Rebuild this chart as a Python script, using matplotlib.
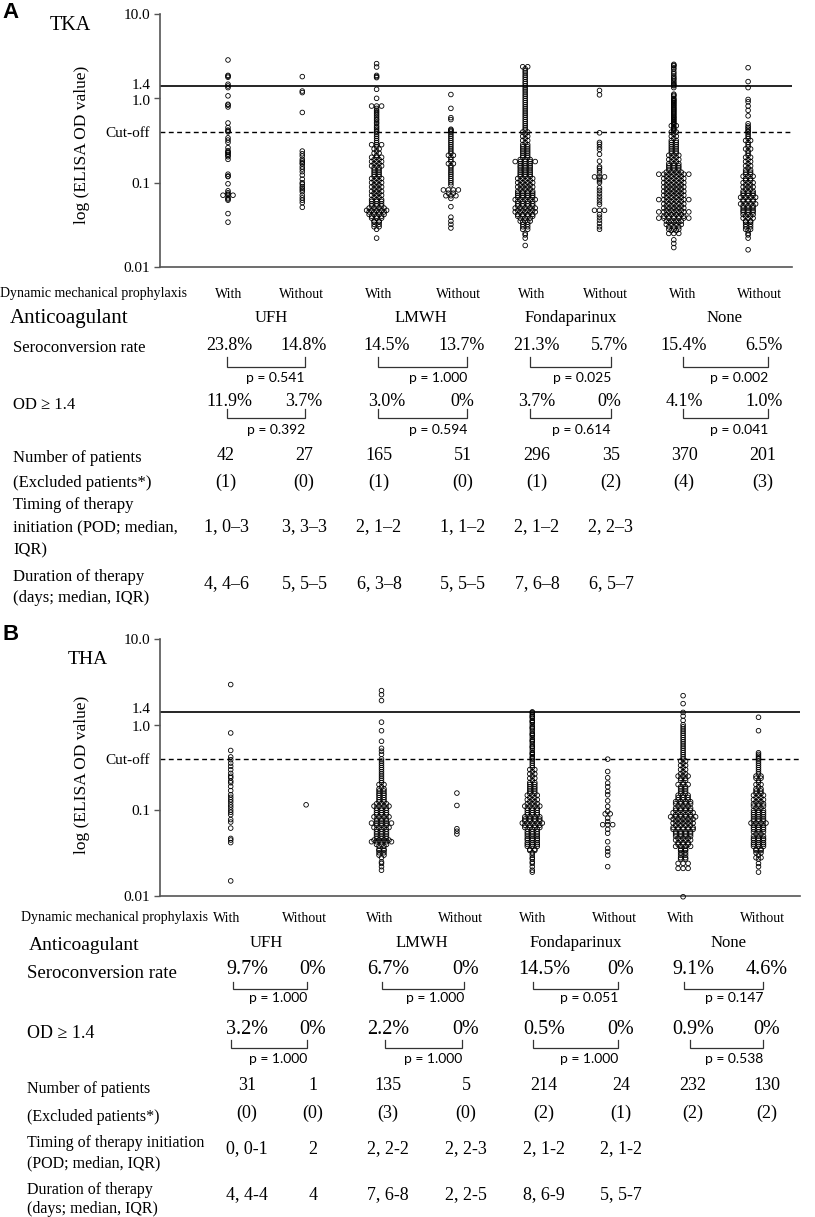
import matplotlib
matplotlib.use("Agg")
import matplotlib.pyplot as plt
from matplotlib.transforms import ScaledTranslation

SERIF = ["Liberation Serif", "DejaVu Serif"]
PFONT = ["Lato", "Liberation Sans", "DejaVu Sans"]
plt.rcParams["font.family"] = SERIF

W, H = 815, 1217

# ELISA OD values: (OD value, number of patients at that value)
# order of groups: UFH with/without, LMWH with/without, Fondaparinux with/without, None with/without

# ---- TKA
TKA_UFH_WITH = [(2.85, 1), (1.87, 1), (1.83, 1), (1.78, 1), (1.47, 1), (1.40, 1), (1.34, 1), (1.07, 1),
                (0.85, 1), (0.83, 1), (0.79, 1), (0.51, 1), (0.45, 1), (0.42, 1), (0.41, 1), (0.40, 1),
                (0.34, 1), (0.32, 1), (0.30, 1), (0.26, 1), (0.24, 1), (0.23, 1), (0.227, 1), (0.217, 1),
                (0.21, 1), (0.203, 1), (0.189, 1), (0.126, 1), (0.12, 1), (0.118, 1), (0.097, 1), (0.080, 1),
                (0.076, 1), (0.073, 1), (0.071, 3), (0.066, 1), (0.064, 1), (0.062, 1), (0.043, 1), (0.034, 1)]
TKA_UFH_WITHOUT = [(1.81, 1), (1.22, 1), (1.17, 1), (0.68, 1), (0.237, 1), (0.220, 1), (0.207, 1), (0.189, 1),
                   (0.180, 1), (0.172, 1), (0.166, 1), (0.154, 1), (0.145, 1), (0.135, 1), (0.123, 1), (0.110, 1),
                   (0.100, 1), (0.096, 1), (0.090, 1), (0.086, 1), (0.082, 1), (0.078, 1), (0.071, 1), (0.066, 1),
                   (0.062, 1), (0.058, 1), (0.051, 1)]
TKA_LMWH_WITH = [(2.58, 1), (2.35, 1), (1.87, 1), (1.81, 1), (1.76, 1), (1.28, 1), (1.00, 1), (0.81, 3),
                 (0.76, 1), (0.72, 1), (0.69, 1), (0.66, 1), (0.63, 1), (0.60, 1), (0.57, 1), (0.55, 1),
                 (0.52, 1), (0.50, 1), (0.47, 1), (0.45, 1), (0.43, 1), (0.41, 1),
                 (0.398, 1), (0.376, 1), (0.355, 1), (0.335, 1), (0.316, 1), (0.299, 1), (0.282, 3), (0.266, 1),
                 (0.251, 2), (0.237, 1), (0.224, 2), (0.211, 1), (0.200, 3), (0.188, 2), (0.178, 3), (0.168, 2),
                 (0.158, 3), (0.150, 2), (0.141, 2), (0.133, 2), (0.126, 2), (0.119, 2), (0.112, 3), (0.106, 2),
                 (0.100, 3), (0.094, 2), (0.089, 3), (0.084, 2), (0.079, 3), (0.075, 2), (0.071, 3), (0.067, 2),
                 (0.063, 3), (0.060, 3), (0.056, 3), (0.053, 3), (0.050, 4), (0.047, 5), (0.045, 4), (0.042, 4),
                 (0.040, 3), (0.038, 3), (0.035, 2), (0.034, 2), (0.032, 2), (0.030, 2), (0.028, 1), (0.022, 1)]
TKA_LMWH_WITHOUT = [(1.11, 1), (0.76, 1), (0.59, 1), (0.56, 1), (0.43, 1), (0.42, 1), (0.41, 1),
                    (0.398, 1), (0.376, 1), (0.355, 1), (0.335, 1), (0.316, 1), (0.299, 1), (0.282, 1), (0.266, 1),
                    (0.251, 1), (0.237, 1), (0.224, 1), (0.211, 2), (0.200, 1), (0.188, 1), (0.178, 1), (0.168, 2),
                    (0.158, 1), (0.150, 1), (0.141, 1), (0.133, 1), (0.126, 1), (0.119, 1), (0.112, 1), (0.106, 1),
                    (0.100, 1), (0.094, 1), (0.082, 4), (0.075, 2), (0.070, 3), (0.065, 1), (0.052, 1), (0.039, 1),
                    (0.035, 1), (0.032, 1), (0.029, 1)]
TKA_FONDA_WITH = [(2.37, 2), (2.24, 1), (2.11, 1), (2.00, 1), (1.88, 1), (1.78, 1), (1.68, 1), (1.58, 1),
                  (1.50, 1), (1.41, 1), (1.33, 1), (1.26, 1), (1.19, 1), (1.12, 1), (1.06, 1), (1.00, 1),
                  (0.944, 1), (0.891, 1), (0.841, 1), (0.794, 1), (0.750, 1), (0.708, 1), (0.668, 1), (0.631, 1),
                  (0.596, 1), (0.562, 1), (0.531, 1), (0.501, 1), (0.473, 1), (0.447, 1), (0.422, 1),
                  (0.398, 2), (0.376, 1), (0.355, 2), (0.335, 1), (0.316, 2), (0.299, 1), (0.282, 2), (0.266, 2),
                  (0.251, 2), (0.237, 2), (0.224, 2), (0.211, 2), (0.200, 2), (0.188, 3), (0.178, 5), (0.168, 3),
                  (0.158, 3), (0.150, 3), (0.141, 3), (0.133, 3), (0.126, 3), (0.119, 3), (0.112, 4), (0.106, 3),
                  (0.100, 4), (0.094, 3), (0.089, 4), (0.084, 3), (0.079, 4), (0.075, 4), (0.071, 4), (0.067, 4),
                  (0.063, 5), (0.060, 4), (0.056, 4), (0.053, 4), (0.050, 5), (0.047, 4), (0.045, 5), (0.042, 4),
                  (0.040, 4), (0.038, 3), (0.035, 3), (0.034, 2), (0.032, 2), (0.030, 2), (0.028, 2), (0.025, 1),
                  (0.024, 1), (0.022, 1), (0.018, 1)]
TKA_FONDA_WITHOUT = [(1.24, 1), (1.10, 1), (0.39, 1), (0.30, 1), (0.285, 1), (0.265, 1), (0.248, 1), (0.217, 1),
                     (0.18, 1), (0.154, 1), (0.148, 1), (0.138, 1), (0.13, 1), (0.117, 3), (0.110, 1), (0.105, 1),
                     (0.100, 1), (0.087, 1), (0.081, 1), (0.075, 1), (0.069, 1), (0.064, 1), (0.059, 1), (0.055, 1),
                     (0.047, 3), (0.042, 1), (0.039, 1), (0.036, 1), (0.033, 1), (0.030, 1), (0.028, 1)]
TKA_NONE_WITH = [(2.53, 1), (2.47, 1), (2.42, 1), (2.30, 1), (2.20, 1), (2.05, 1), (1.95, 1), (1.84, 1),
                 (1.76, 1), (1.70, 1), (1.63, 1), (1.55, 1), (1.49, 1), (1.44, 1), (1.41, 1),
                 (1.34, 1), (1.12, 1), (1.09, 1), (1.06, 1), (1.00, 1), (0.97, 1), (0.944, 1), (0.92, 1),
                 (0.891, 1), (0.87, 1), (0.841, 1), (0.82, 1), (0.794, 1), (0.77, 1), (0.750, 1), (0.73, 1),
                 (0.708, 1), (0.69, 1), (0.668, 1), (0.65, 1), (0.631, 1), (0.61, 1), (0.596, 1), (0.58, 1),
                 (0.562, 1), (0.55, 1), (0.531, 1), (0.52, 1), (0.501, 1), (0.49, 1), (0.473, 2), (0.46, 1),
                 (0.447, 1), (0.435, 1), (0.422, 1), (0.41, 1),
                 (0.398, 2), (0.376, 1), (0.355, 2), (0.335, 1), (0.316, 2), (0.299, 2), (0.282, 2), (0.266, 2),
                 (0.251, 2), (0.237, 2), (0.224, 2), (0.211, 3), (0.200, 2), (0.188, 3), (0.178, 2), (0.168, 3),
                 (0.158, 3), (0.150, 3), (0.141, 3), (0.133, 4), (0.126, 7), (0.119, 4), (0.112, 5), (0.106, 4),
                 (0.100, 5), (0.094, 4), (0.089, 5), (0.084, 4), (0.079, 5), (0.075, 4), (0.071, 5), (0.067, 4),
                 (0.063, 7), (0.060, 4), (0.056, 5), (0.053, 4), (0.050, 5), (0.047, 4), (0.045, 7), (0.042, 4),
                 (0.040, 5), (0.038, 7), (0.035, 4), (0.034, 3), (0.032, 4), (0.030, 3), (0.028, 3), (0.027, 2),
                 (0.025, 3), (0.021, 1), (0.019, 1), (0.017, 1)]
TKA_NONE_WITHOUT = [(2.31, 1), (1.58, 1), (1.34, 1), (0.97, 1), (0.91, 1), (0.81, 1), (0.72, 1), (0.62, 1),
                    (0.50, 1), (0.47, 1), (0.45, 1), (0.43, 1), (0.41, 1),
                    (0.398, 1), (0.376, 1), (0.355, 1), (0.335, 1), (0.316, 2), (0.299, 1), (0.282, 1), (0.266, 1),
                    (0.251, 2), (0.237, 1), (0.224, 1), (0.211, 1), (0.200, 2), (0.188, 1), (0.178, 2), (0.168, 1),
                    (0.158, 2), (0.150, 1), (0.141, 2), (0.133, 2), (0.126, 2), (0.119, 3), (0.112, 2), (0.106, 2),
                    (0.100, 3), (0.094, 2), (0.089, 3), (0.084, 2), (0.079, 3), (0.075, 3), (0.071, 3), (0.067, 4),
                    (0.063, 3), (0.060, 3), (0.056, 4), (0.053, 3), (0.050, 3), (0.047, 3), (0.045, 3), (0.042, 3),
                    (0.040, 2), (0.038, 3), (0.035, 2), (0.034, 2), (0.032, 2), (0.030, 2), (0.028, 2), (0.027, 1),
                    (0.025, 1), (0.024, 1), (0.022, 1), (0.016, 1)]

# ---- THA
THA_UFH_WITH = [(2.94, 1), (0.80, 1), (0.50, 1), (0.42, 1), (0.39, 1), (0.356, 1), (0.326, 1), (0.298, 1),
                (0.27, 1), (0.25, 1), (0.24, 1), (0.22, 1), (0.21, 1), (0.19, 1), (0.17, 1), (0.152, 1),
                (0.142, 1), (0.133, 1), (0.125, 1), (0.116, 1), (0.109, 1), (0.101, 1), (0.095, 1), (0.089, 1),
                (0.078, 1), (0.073, 1), (0.062, 1), (0.047, 1), (0.045, 1), (0.042, 1), (0.015, 1)]
THA_UFH_WITHOUT = [(0.116, 1)]
THA_LMWH_WITH = [(2.50, 1), (2.24, 1), (1.91, 1), (1.07, 1), (0.85, 1), (0.64, 1), (0.53, 1), (0.49, 1), (0.45, 1),
                 (0.398, 1), (0.376, 1), (0.355, 1), (0.335, 1), (0.316, 1), (0.299, 1), (0.282, 1), (0.266, 1),
                 (0.251, 1), (0.237, 1), (0.224, 1), (0.211, 1), (0.200, 2), (0.188, 1), (0.178, 2), (0.168, 2),
                 (0.158, 2), (0.150, 2), (0.141, 2), (0.133, 2), (0.126, 2), (0.119, 3), (0.112, 4), (0.106, 3),
                 (0.100, 3), (0.094, 3), (0.089, 3), (0.084, 4), (0.079, 3), (0.075, 3), (0.071, 5), (0.067, 3),
                 (0.063, 4), (0.060, 3), (0.056, 3), (0.053, 3), (0.050, 3), (0.047, 3), (0.045, 4), (0.043, 5),
                 (0.040, 3), (0.038, 2), (0.035, 2), (0.034, 2), (0.032, 2), (0.030, 2), (0.028, 1), (0.025, 1),
                 (0.024, 1), (0.022, 1), (0.020, 1)]
THA_LMWH_WITHOUT = [(0.159, 1), (0.114, 1), (0.061, 1), (0.057, 1), (0.053, 1)]
THA_FONDA_WITH = [(1.41, 1), (1.38, 1), (1.31, 1), (1.26, 1), (1.23, 1), (1.19, 1), (1.12, 1), (1.09, 1),
                  (1.06, 1), (1.00, 1), (0.944, 1), (0.92, 1), (0.891, 1), (0.841, 1), (0.794, 1), (0.77, 1),
                  (0.750, 1), (0.708, 1), (0.668, 1), (0.65, 1), (0.631, 1), (0.596, 1), (0.562, 1), (0.55, 1),
                  (0.531, 1), (0.501, 1), (0.473, 1), (0.46, 1), (0.447, 1), (0.422, 1), (0.41, 1),
                  (0.398, 1), (0.376, 1), (0.355, 1), (0.335, 1), (0.316, 1), (0.299, 2), (0.282, 1), (0.266, 2),
                  (0.251, 1), (0.237, 2), (0.224, 1), (0.211, 2), (0.200, 2), (0.188, 2), (0.178, 2), (0.168, 2),
                  (0.158, 2), (0.150, 3), (0.141, 2), (0.133, 3), (0.126, 2), (0.119, 3), (0.112, 4), (0.106, 3),
                  (0.100, 3), (0.094, 3), (0.089, 3), (0.084, 4), (0.079, 4), (0.075, 4), (0.071, 5), (0.067, 4),
                  (0.063, 4), (0.060, 3), (0.056, 3), (0.053, 3), (0.050, 3), (0.047, 3), (0.045, 3), (0.042, 3),
                  (0.040, 3), (0.038, 3), (0.035, 2), (0.034, 2), (0.032, 1), (0.030, 1), (0.028, 1), (0.027, 1),
                  (0.025, 1), (0.024, 1), (0.022, 1), (0.020, 1), (0.019, 1)]
THA_FONDA_WITHOUT = [(0.396, 1), (0.284, 1), (0.24, 1), (0.208, 1), (0.188, 1), (0.166, 1), (0.152, 1), (0.129, 1),
                     (0.111, 1), (0.097, 1), (0.091, 2), (0.081, 1), (0.074, 1), (0.068, 3), (0.060, 1), (0.054, 1),
                     (0.043, 1), (0.036, 1), (0.033, 1), (0.030, 1), (0.022, 1)]
THA_NONE_WITH = [(2.18, 1), (1.76, 1), (1.39, 1), (1.26, 1), (1.12, 1), (1.00, 1), (0.944, 1), (0.891, 1),
                 (0.841, 1), (0.794, 1), (0.750, 1), (0.708, 1), (0.668, 1), (0.631, 1), (0.596, 1), (0.562, 1),
                 (0.531, 1), (0.501, 1), (0.473, 1), (0.447, 1), (0.422, 1),
                 (0.398, 1), (0.376, 2), (0.355, 1), (0.335, 2), (0.316, 1), (0.299, 2), (0.282, 1), (0.266, 2),
                 (0.251, 3), (0.237, 2), (0.224, 2), (0.211, 1), (0.200, 3), (0.188, 2), (0.178, 2), (0.168, 2),
                 (0.158, 2), (0.150, 3), (0.141, 3), (0.133, 3), (0.126, 4), (0.119, 4), (0.112, 3), (0.106, 4),
                 (0.100, 4), (0.094, 5), (0.089, 4), (0.084, 6), (0.079, 5), (0.075, 4), (0.071, 5), (0.067, 4),
                 (0.063, 5), (0.060, 5), (0.056, 4), (0.053, 4), (0.050, 4), (0.047, 3), (0.045, 4), (0.042, 3),
                 (0.040, 3), (0.038, 4), (0.035, 2), (0.034, 2), (0.032, 2), (0.030, 2), (0.028, 2), (0.027, 2),
                 (0.024, 3), (0.021, 3), (0.0098, 1)]
THA_NONE_WITHOUT = [(1.22, 1), (0.85, 1), (0.47, 1), (0.45, 1), (0.43, 1), (0.41, 1),
                    (0.398, 1), (0.376, 1), (0.355, 1), (0.335, 1), (0.316, 1), (0.299, 1), (0.282, 1), (0.266, 1),
                    (0.251, 2), (0.237, 2), (0.224, 1), (0.211, 1), (0.200, 2), (0.188, 1), (0.178, 2), (0.168, 2),
                    (0.158, 2), (0.150, 3), (0.141, 2), (0.133, 3), (0.126, 2), (0.119, 3), (0.112, 3), (0.106, 2),
                    (0.100, 3), (0.094, 3), (0.089, 3), (0.084, 3), (0.079, 3), (0.075, 3), (0.071, 4), (0.067, 3),
                    (0.063, 3), (0.060, 3), (0.056, 3), (0.053, 2), (0.050, 3), (0.047, 3), (0.045, 3), (0.042, 3),
                    (0.040, 3), (0.038, 3), (0.035, 2), (0.034, 2), (0.032, 2), (0.030, 1), (0.028, 2), (0.027, 1),
                    (0.024, 1), (0.022, 1), (0.019, 1)]

TKA_GROUPS = [TKA_UFH_WITH, TKA_UFH_WITHOUT, TKA_LMWH_WITH, TKA_LMWH_WITHOUT,
              TKA_FONDA_WITH, TKA_FONDA_WITHOUT, TKA_NONE_WITH, TKA_NONE_WITHOUT]
THA_GROUPS = [THA_UFH_WITH, THA_UFH_WITHOUT, THA_LMWH_WITH, THA_LMWH_WITHOUT,
              THA_FONDA_WITH, THA_FONDA_WITHOUT, THA_NONE_WITH, THA_NONE_WITHOUT]

# ---- table text
PROPHYLAXIS = ["With", "Without"] * 4
ANTICOAGULANTS = ["UFH", "LMWH", "Fondaparinux", "None"]

TKA_SERO = ["23.8%", "14.8%", "14.5%", "13.7%", "21.3%", "5.7%", "15.4%", "6.5%"]
TKA_SERO_P = ["p = 0.541", "p = 1.000", "p = 0.025", "p = 0.002"]
TKA_OD14 = ["11.9%", "3.7%", "3.0%", "0%", "3.7%", "0%", "4.1%", "1.0%"]
TKA_OD14_P = ["p = 0.392", "p = 0.594", "p = 0.614", "p = 0.041"]
TKA_N = ["42", "27", "165", "51", "296", "35", "370", "201"]
TKA_EXCL = ["(1)", "(0)", "(1)", "(0)", "(1)", "(2)", "(4)", "(3)"]
TKA_TIMING = ["1, 0–3", "3, 3–3", "2, 1–2", "1, 1–2", "2, 1–2", "2, 2–3"]
TKA_DURATION = ["4, 4–6", "5, 5–5", "6, 3–8", "5, 5–5", "7, 6–8", "6, 5–7"]

THA_SERO = ["9.7%", "0%", "6.7%", "0%", "14.5%", "0%", "9.1%", "4.6%"]
THA_SERO_P = ["p = 1.000", "p = 1.000", "p = 0.051", "p = 0.147"]
THA_OD14 = ["3.2%", "0%", "2.2%", "0%", "0.5%", "0%", "0.9%", "0%"]
THA_OD14_P = ["p = 1.000", "p = 1.000", "p = 1.000", "p = 0.538"]
THA_N = ["31", "1", "135", "5", "214", "24", "232", "130"]
THA_EXCL = ["(0)", "(0)", "(3)", "(0)", "(2)", "(1)", "(2)", "(2)"]
THA_TIMING = ["0, 0-1", "2", "2, 2-2", "2, 2-3", "2, 1-2", "2, 1-2"]
THA_DURATION = ["4, 4-4", "4", "7, 6-8", "2, 2-5", "8, 6-9", "5, 5-7"]

YTICKS = [10, 1.4, 1, 0.4, 0.1, 0.01]
YTICKLABELS = ["10.0", "1.4", "1.0", "Cut-off", "0.1", "0.01"]

fig = plt.figure(figsize=(W / 100, H / 100), dpi=100)

# full-figure overlay in pixel coordinates for the table part
tab = fig.add_axes([0, 0, 1, 1], zorder=-1)
tab.set_xlim(0, W)
tab.set_ylim(H, 0)
tab.axis("off")


def put(x, y, s, size, ha="center", family=SERIF, **kw):
    tab.text(x, y, s, fontsize=size, ha=ha, va="center", family=family, **kw)


def bracket(x0, x1, y0, y1):
    tab.plot([x0, x0, x1, x1], [y0, y1, y1, y0], color="#333333", lw=0.9, solid_joinstyle="miter")


def dot_panel(left, top, right, bottom, first_x, spacing, groups, lift14):
    ax = fig.add_axes([left / W, 1 - bottom / H, (right - left) / W, (bottom - top) / H])
    ax.patch.set_visible(False)
    ax.set_yscale("log")
    ax.set_ylim(0.01, 10)
    ax.set_xlim(1 - (first_x - left) / spacing, 8 + (right - first_x - 7 * spacing) / spacing)
    step = 5.0 / spacing
    for i, grp in enumerate(groups, start=1):
        xs, ys = [], []
        for od, n in grp:
            for k in range(n):
                xs.append(i + (k - (n - 1) / 2) * step)
                ys.append(od)
        ax.scatter(xs, ys, s=11, facecolors="none", edgecolors="black", linewidths=0.6,
                   clip_on=False, zorder=3)
    ax.axhline(1.4, color="black", lw=1.2, zorder=2)
    ax.axhline(0.4, color="black", lw=1.0, ls=(0, (3.5, 2.5)), zorder=2)
    for s in ["top", "right"]:
        ax.spines[s].set_visible(False)
    for s in ["left", "bottom"]:
        ax.spines[s].set_color("#555555")
        ax.spines[s].set_linewidth(1.2)
    ax.set_xticks([])
    ax.set_yticks(YTICKS)
    ax.set_yticklabels(YTICKLABELS)
    ax.minorticks_off()
    ax.tick_params(axis="y", length=4, width=1, color="#555555", labelsize=11, pad=3)
    ticks = ax.yaxis.get_major_ticks()
    for t in (ticks[1], ticks[3]):
        t.tick1line.set_visible(False)
    # keep the stacked "1.4" / "1.0" labels apart like in the original
    lab14 = ticks[1].label1
    lab14.set_transform(lab14.get_transform() + ScaledTranslation(0, lift14 / 100, fig.dpi_scale_trans))
    lab10 = ticks[2].label1
    lab10.set_transform(lab10.get_transform() + ScaledTranslation(0, -1.5 / 100, fig.dpi_scale_trans))
    return ax


# ---------------- panel A (TKA)
dot_panel(160, 14, 792, 267, 228, 74.3, TKA_GROUPS, 2.5)
put(2, 13, "A", 16, ha="left", family=["Liberation Sans", "DejaVu Sans"], fontweight="bold")
put(50, 25, "TKA", 14.5, ha="left")
tab.text(82, 145, "log (ELISA OD value)", fontsize=12.5, rotation=90, ha="center", va="center")

A_HEAD = [229, 301, 379, 458, 532, 605, 683, 759]
A_COLS = [229, 304, 387, 462, 537, 609, 684, 764]
A_NUM = [226, 304, 379, 463, 537, 611, 684, 763]
A_DRUG = [271, 421, 571, 725]
A_BR = [(227, 305), (378, 467), (530, 611), (683, 768)]

put(0, 294, "Dynamic mechanical prophylaxis", 10, ha="left")
for x, s in zip(A_HEAD, PROPHYLAXIS):
    put(x, 294, s, 10)
put(10, 319, "Anticoagulant", 15, ha="left")
for x, s in zip(A_DRUG, ANTICOAGULANTS):
    put(x, 318, s, 12)
put(13, 348, "Seroconversion rate", 12, ha="left")
for x, s in zip(A_COLS, TKA_SERO):
    put(x, 345, s, 13)
for (x0, x1), p in zip(A_BR, TKA_SERO_P):
    bracket(x0, x1, 357, 367)
    put(x1, 378, p, 10, ha="right", family=PFONT)
put(13, 405, "OD ≥ 1.4", 12, ha="left")
for x, s in zip(A_COLS, TKA_OD14):
    put(x, 402, s, 13)
for (x0, x1), p in zip(A_BR, TKA_OD14_P):
    bracket(x0, x1, 409, 418)
    put(x1, 430, p, 10, ha="right", family=PFONT)
put(13, 458, "Number of patients", 12, ha="left")
for x, s in zip(A_NUM, TKA_N):
    put(x, 455, s, 13)
put(13, 483, "(Excluded patients*)", 12, ha="left")
for x, s in zip(A_NUM, TKA_EXCL):
    put(x, 482, s, 13)
put(13, 505, "Timing of therapy", 12, ha="left")
put(13, 527, "initiation (POD; median,", 12, ha="left")
put(13, 550, "IQR)", 12, ha="left")
for x, s in zip(A_NUM, TKA_TIMING):
    put(x, 527, s, 13)
put(13, 577, "Duration of therapy", 12, ha="left")
put(13, 598, "(days; median, IQR)", 12, ha="left")
for x, s in zip(A_NUM, TKA_DURATION):
    put(x, 584, s, 13)

# ---------------- panel B (THA)
dot_panel(160, 639, 800, 896, 230.7, 75.4, THA_GROUPS, 4)
put(2, 635, "B", 16, ha="left", family=["Liberation Sans", "DejaVu Sans"], fontweight="bold")
put(68, 660, "THA", 14, ha="left")
tab.text(82, 775, "log (ELISA OD value)", fontsize=12.5, rotation=90, ha="center", va="center")

B_HEAD = [227, 304, 380, 460, 533, 614, 681, 762]
B_COLS = [247, 313, 388, 466, 544, 621, 693, 767]
B_DRUG = [266, 422, 576, 729]
B_BR_SERO = [(233, 307), (382, 464), (533, 618), (684, 763)]
B_BR_OD = [(231, 307), (385, 462), (533, 618), (690, 763)]

put(21, 918, "Dynamic mechanical prophylaxis", 10, ha="left")
for x, s in zip(B_HEAD, PROPHYLAXIS):
    put(x, 918, s, 10)
put(29, 946, "Anticoagulant", 14, ha="left")
for x, s in zip(B_DRUG, ANTICOAGULANTS):
    put(x, 943, s, 12)
put(27, 974, "Seroconversion rate", 13.5, ha="left")
for x, s in zip(B_COLS, THA_SERO):
    put(x, 970, s, 14.5)
for (x0, x1), p in zip(B_BR_SERO, THA_SERO_P):
    bracket(x0, x1, 982, 989)
    put(x1, 998, p, 10, ha="right", family=PFONT)
put(27, 1033, "OD ≥ 1.4", 13, ha="left")
for x, s in zip(B_COLS, THA_OD14):
    put(x, 1029, s, 14.5)
for (x0, x1), p in zip(B_BR_OD, THA_OD14_P):
    bracket(x0, x1, 1040, 1048)
    put(x1, 1059, p, 10, ha="right", family=PFONT)
put(27, 1089, "Number of patients", 11.5, ha="left")
for x, s in zip(B_COLS, THA_N):
    put(x, 1085, s, 13)
put(27, 1117, "(Excluded patients*)", 11.5, ha="left")
for x, s in zip(B_COLS, THA_EXCL):
    put(x, 1113, s, 13)
put(27, 1143, "Timing of therapy initiation", 11.5, ha="left")
put(27, 1163, "(POD; median, IQR)", 11.5, ha="left")
for x, s in zip(B_COLS, THA_TIMING):
    put(x, 1149, s, 13)
put(27, 1190, "Duration of therapy", 11.5, ha="left")
put(27, 1209, "(days; median, IQR)", 11.5, ha="left")
for x, s in zip(B_COLS, THA_DURATION):
    put(x, 1195, s, 13)

fig.savefig("out.png", dpi=100)
